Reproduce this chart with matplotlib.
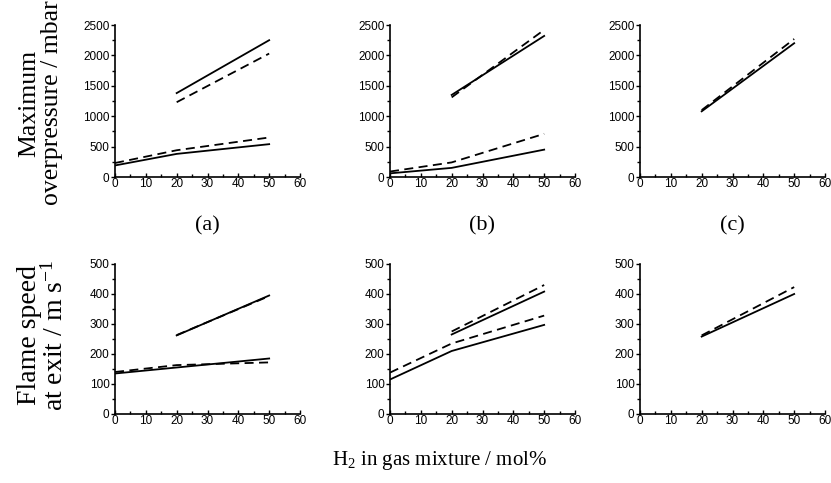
import matplotlib.pyplot as plt
from matplotlib.ticker import MultipleLocator

plt.rcParams['font.family'] = 'Liberation Sans'
plt.rcParams['mathtext.fontset'] = 'custom'
plt.rcParams['mathtext.rm'] = 'Liberation Serif'
plt.rcParams['mathtext.it'] = 'Liberation Serif:italic'

# data, per panel: (x, y) for each line
x_low = [0, 20, 50]
x_up = [20, 50]

# maximum overpressure / mbar
p_low_solid = [[190, 380, 540], [60, 150, 450], None]
p_low_dash = [[230, 440, 650], [90, 240, 710], None]
p_up_solid = [[1380, 2250], [1350, 2320], [1080, 2200]]
p_up_dash = [[1230, 2030], [1310, 2420], [1100, 2270]]

# flame speed at exit / m s-1
v_low_solid = [[135, 155, 185], [115, 210, 297], None]
v_low_dash = [[140, 163, 172], [138, 235, 328], None]
v_up_solid = [[262, 395], [265, 408], [258, 400]]
v_up_dash = [[263, 393], [275, 430], [262, 423]]

panel_tags = ['(a)', '(b)', '(c)']

W, H = 831, 483
fig = plt.figure(figsize=(W / 100, H / 100), dpi=100)

left_px = [115, 390, 640]
width_px = 185
rows = [(25, 177), (264, 414)]   # top, bottom of each row in pixels


def make_ax(col, row):
    top, bot = rows[row]
    l = left_px[col]
    return fig.add_axes([l / W, 1 - bot / H, width_px / W, (bot - top) / H])


def style(ax, ymax, ymaj, ymin):
    ax.set_xlim(0, 60)
    ax.set_ylim(0, ymax)
    ax.spines['top'].set_visible(False)
    ax.spines['right'].set_visible(False)
    ax.xaxis.set_major_locator(MultipleLocator(10))
    ax.xaxis.set_minor_locator(MultipleLocator(5))
    ax.yaxis.set_major_locator(MultipleLocator(ymaj))
    ax.yaxis.set_minor_locator(MultipleLocator(ymin))
    ax.tick_params(axis='x', direction='in', length=3, width=1, labelsize=8.5, pad=1)
    ax.tick_params(axis='x', which='minor', direction='in', length=2, width=1)
    ax.tick_params(axis='y', direction='out', length=3, width=1, labelsize=8.5, pad=1)
    ax.tick_params(axis='y', which='minor', direction='out', length=2, width=1)
    for s in ('left', 'bottom'):
        ax.spines[s].set_linewidth(1.2)


for col in range(3):
    ax = make_ax(col, 0)
    if p_low_solid[col] is not None:
        ax.plot(x_low, p_low_solid[col], 'k-', lw=1.3)
        ax.plot(x_low, p_low_dash[col], 'k--', lw=1.3, dashes=(5, 3))
    ax.plot(x_up, p_up_solid[col], 'k-', lw=1.3)
    ax.plot(x_up, p_up_dash[col], 'k--', lw=1.3, dashes=(5, 3))
    style(ax, 2500, 500, 250)
    ax.text(0.5, -0.32, panel_tags[col], transform=ax.transAxes, ha='center',
            va='center', fontsize=16, family='Liberation Serif')

    ax = make_ax(col, 1)
    if v_low_solid[col] is not None:
        ax.plot(x_low, v_low_solid[col], 'k-', lw=1.3)
        ax.plot(x_low, v_low_dash[col], 'k--', lw=1.3, dashes=(5, 3))
    ax.plot(x_up, v_up_solid[col], 'k-', lw=1.3)
    ax.plot(x_up, v_up_dash[col], 'k--', lw=1.3, dashes=(5, 3))
    style(ax, 500, 100, 50)

fig.text(41 / W, 1 - 103 / H, 'Maximum\noverpressure / mbar', rotation=90,
         ha='center', va='center', fontsize=18.5, family='Liberation Serif',
         linespacing=1.05)
fig.text(43 / W, 1 - 335 / H, 'Flame speed\nat exit / m s$^{\\mathregular{-1}}$',
         rotation=90, ha='center', va='center', fontsize=20,
         family='Liberation Serif', linespacing=1.0)
fig.text(440 / W, 1 - 460 / H, 'H$_{\\mathregular{2}}$ in gas mixture / mol%',
         ha='center', va='center', fontsize=15, family='Liberation Serif')

fig.savefig('out.png', dpi=100)
